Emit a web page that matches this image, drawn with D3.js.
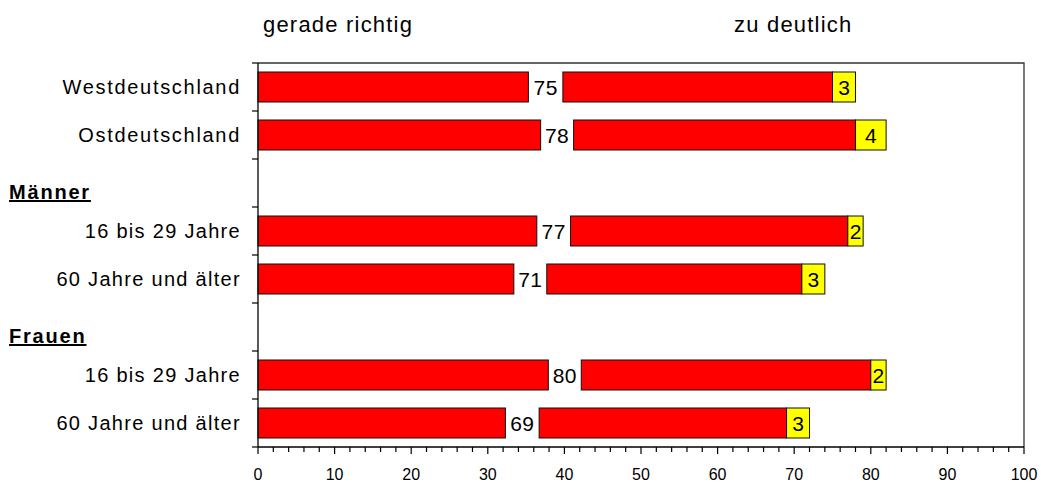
<!DOCTYPE html>
<html>
<head>
<meta charset="utf-8">
<script src="https://cdn.jsdelivr.net/npm/d3@7"></script>
<style>
  html, body { margin: 0; padding: 0; background: #fff; }
  svg { display: block; font-family: "Liberation Sans", Arial, sans-serif; }
</style>
</head>
<body>
<svg id="chart" width="1041" height="483"></svg>
<script>
// ---- data ----
const rowLabels   = ["Westdeutschland", "Ostdeutschland", "Männer", "16 bis 29 Jahre", "60 Jahre und älter", "Frauen", "16 bis 29 Jahre", "60 Jahre und älter"];
const rowIsHeader = [false, false, true, false, false, true, false, false];
const categories  = ["Westdeutschland", "Ostdeutschland", "16 bis 29 Jahre", "60 Jahre und älter", "16 bis 29 Jahre", "60 Jahre und älter"];
const catRowIndex = [0, 1, 3, 4, 6, 7];
const geradeRichtig = [75, 78, 77, 71, 80, 69];
const zuDeutlich    = [3, 4, 2, 3, 2, 3];
// first (left) red bar length and start of the second red bar, as drawn in the reference
const leftBarEnd    = [35.3, 36.9, 36.4, 33.4, 37.9, 32.3];
const rightBarStart = [39.8, 41.2, 40.8, 37.7, 42.2, 36.7];
const xTicks = [0, 10, 20, 30, 40, 50, 60, 70, 80, 90, 100];
const seriesTitles = ["gerade richtig", "zu deutlich"];

// ---- layout ----
const W = 1041, H = 483;
const plot = { left: 258, right: 1024, top: 63, bottom: 447 };
const svg = d3.select("#chart");

const x = d3.scaleLinear().domain([0, 100]).range([plot.left, plot.right]);
const y = d3.scaleBand().domain(d3.range(rowLabels.length))
  .range([plot.top, plot.bottom]).paddingInner(0.375).paddingOuter(0.1875);

const RED = "#ff0000", YELLOW = "#ffff00";

// frame (top + right)
svg.append("path")
  .attr("d", `M${plot.left},${plot.top}H${plot.right}V${plot.bottom}`)
  .attr("fill", "none").attr("stroke", "#333").attr("stroke-width", 1.3);

// bars
const rows = categories.map((c, i) => ({
  c, r: catRowIndex[i], g: geradeRichtig[i], z: zuDeutlich[i],
  a: leftBarEnd[i], b: rightBarStart[i]
}));

const gBars = svg.append("g");
rows.forEach(d => {
  const y0 = y(d.r), bh = y.bandwidth();
  gBars.append("rect").attr("x", x(0)).attr("y", y0)
    .attr("width", x(d.a) - x(0)).attr("height", bh)
    .attr("fill", RED).attr("stroke", "#111").attr("stroke-width", 1);
  gBars.append("rect").attr("x", x(d.b)).attr("y", y0)
    .attr("width", x(d.g) - x(d.b)).attr("height", bh)
    .attr("fill", RED).attr("stroke", "#111").attr("stroke-width", 1);
  gBars.append("rect").attr("x", x(d.g)).attr("y", y0)
    .attr("width", x(d.g + d.z) - x(d.g)).attr("height", bh)
    .attr("fill", YELLOW).attr("stroke", "#111").attr("stroke-width", 1);
  // value labels
  gBars.append("text").attr("x", (x(d.a) + x(d.b)) / 2).attr("y", y0 + bh / 2)
    .attr("dy", "0.36em").attr("text-anchor", "middle")
    .attr("font-size", 21).attr("letter-spacing", "0.4px").attr("fill", "#000").text(d.g);
  gBars.append("text").attr("x", (x(d.g) + x(d.g + d.z)) / 2).attr("y", y0 + bh / 2)
    .attr("dy", "0.36em").attr("text-anchor", "middle")
    .attr("font-size", 21).attr("fill", "#000").text(d.z);
});

// y axis (ticks at band boundaries)
const yAxisG = svg.append("g");
yAxisG.append("line").attr("x1", plot.left).attr("x2", plot.left)
  .attr("y1", plot.top).attr("y2", plot.bottom).attr("stroke", "#000").attr("stroke-width", 1.3);
d3.range(rowLabels.length + 1).forEach(i => {
  const yy = plot.top + i * y.step();
  yAxisG.append("line").attr("x1", plot.left - 6).attr("x2", plot.left)
    .attr("y1", yy).attr("y2", yy).attr("stroke", "#000").attr("stroke-width", 1.2);
});

// row labels
rowLabels.forEach((lab, i) => {
  if (rowIsHeader[i]) {
    svg.append("text").attr("x", 9).attr("y", y(i) + y.bandwidth() + 1)
      .attr("font-size", 20).attr("font-weight", "bold").attr("letter-spacing", "1.8px")
      .attr("text-decoration", "underline").attr("fill", "#000").text(lab);
  } else {
    svg.append("text").attr("x", 241).attr("y", y(i) + y.bandwidth() / 2)
      .attr("dy", "0.33em").attr("text-anchor", "end")
      .attr("font-size", 20).attr("letter-spacing", lab === "Westdeutschland" || lab === "Ostdeutschland" ? "1.7px" : "1.3px")
      .attr("fill", "#000").text(lab);
  }
});

// x axis
const xAxisG = svg.append("g").attr("transform", `translate(0,${plot.bottom})`);
xAxisG.append("line").attr("x1", plot.left).attr("x2", plot.right)
  .attr("stroke", "#000").attr("stroke-width", 1.3);
d3.range(0, 101, 2).forEach(v => {
  const major = v % 10 === 0;
  xAxisG.append("line").attr("x1", x(v)).attr("x2", x(v))
    .attr("y1", 0).attr("y2", major ? 7 : 5).attr("stroke", "#000").attr("stroke-width", 1.2);
});
xAxisG.selectAll("text.tick").data(xTicks).join("text")
  .attr("class", "tick").attr("x", d => x(d)).attr("y", 33)
  .attr("text-anchor", "middle").attr("font-size", 16).attr("fill", "#000").text(d => d);

// series titles
svg.append("text").attr("x", 263).attr("y", 32).attr("font-size", 22).attr("letter-spacing", "1.2px")
  .attr("fill", "#000").text(seriesTitles[0]);
svg.append("text").attr("x", 734).attr("y", 32).attr("font-size", 22).attr("letter-spacing", "1.2px")
  .attr("fill", "#000").text(seriesTitles[1]);
</script>
</body>
</html>
